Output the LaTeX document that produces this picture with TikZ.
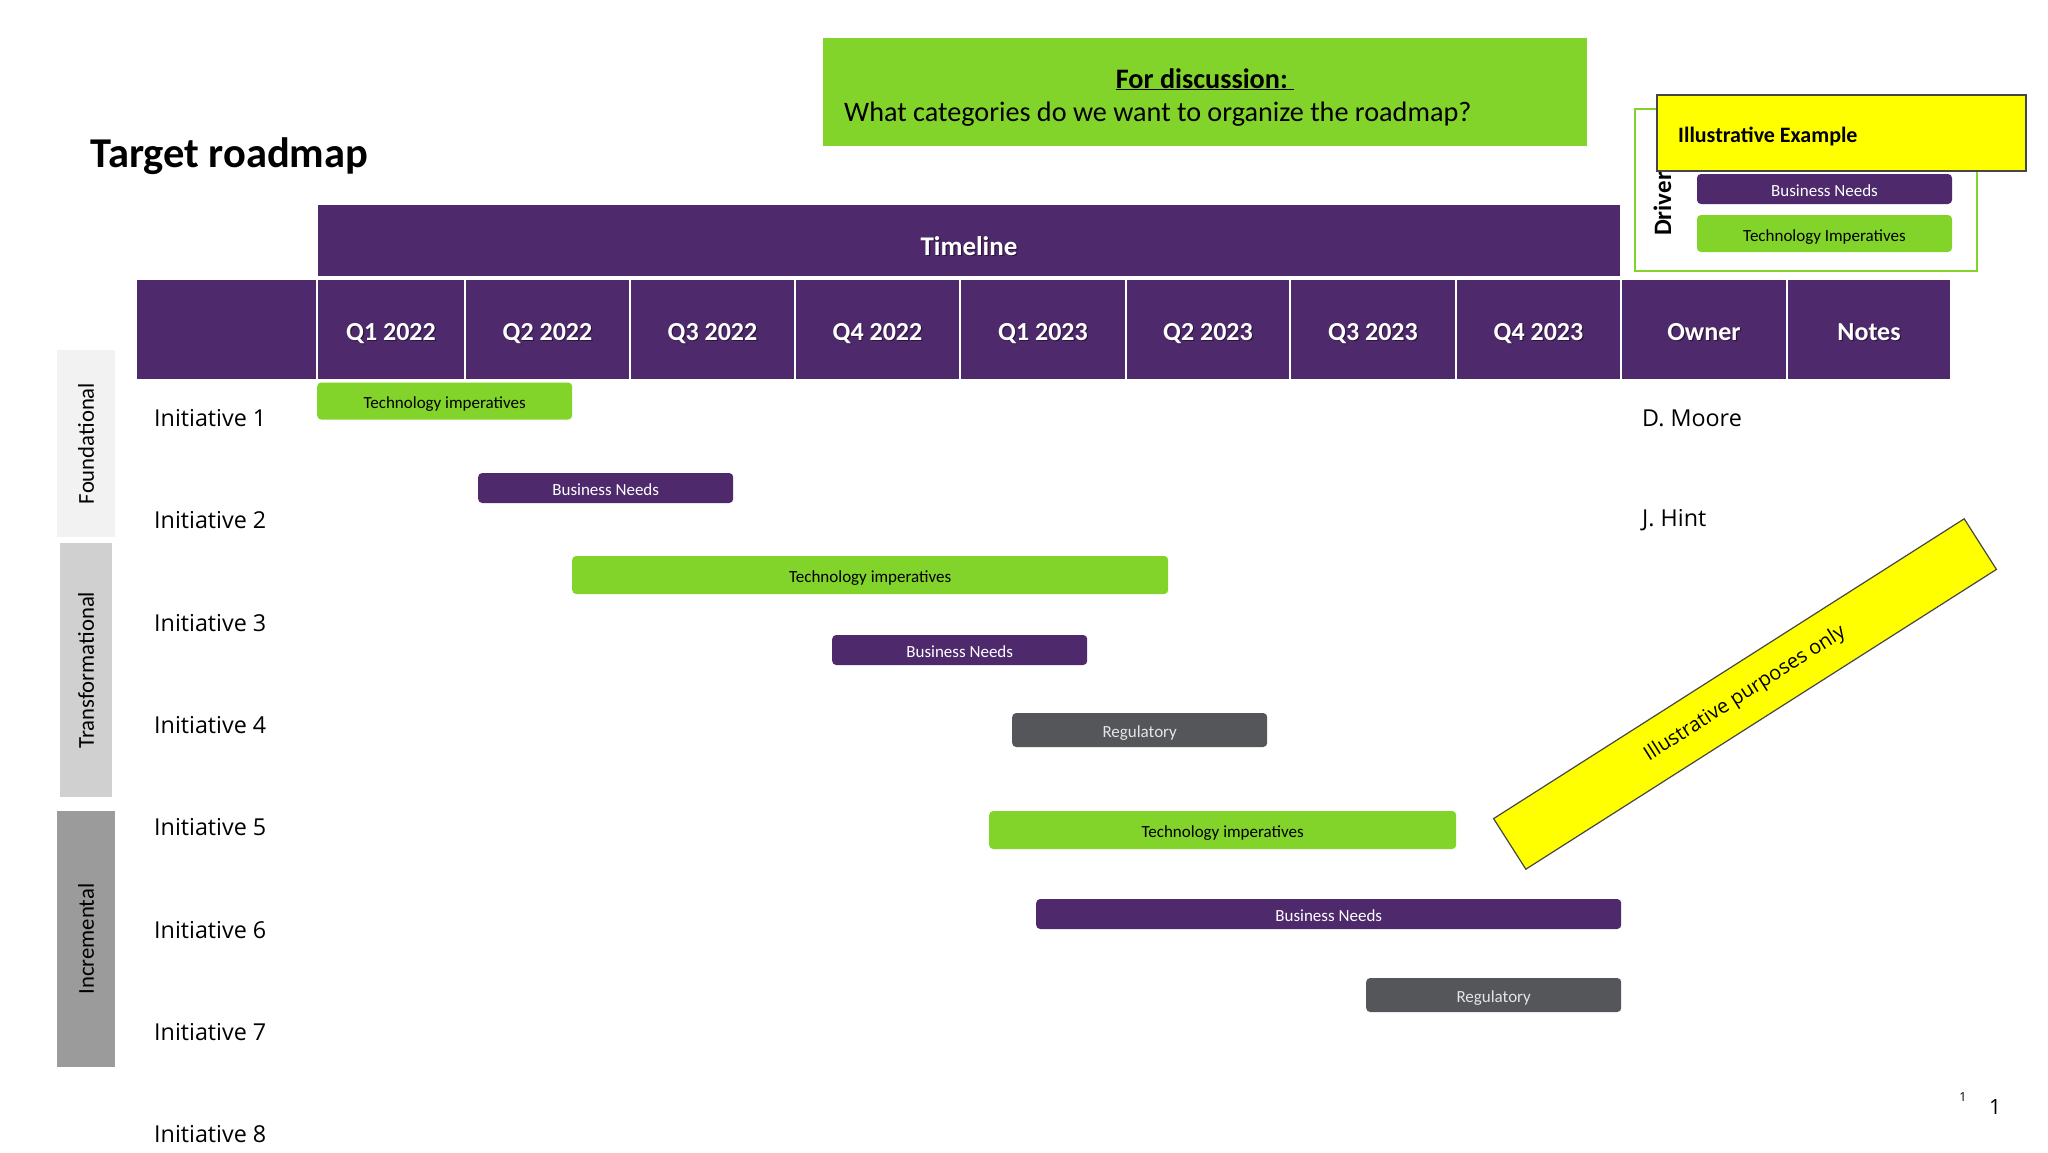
\documentclass[tikz,border=0pt]{standalone}
\usepackage{fontspec}
\setmainfont{Carlito}
\newfontfamily\osans{Open Sans}
\definecolor{tpurple}{RGB}{78,41,108}
\definecolor{tgreen}{RGB}{130,212,42}
\definecolor{tgrey}{RGB}{84,86,90}
\definecolor{catA}{RGB}{242,242,242}
\definecolor{catB}{RGB}{208,208,208}
\definecolor{catC}{RGB}{155,155,155}
\definecolor{tyellow}{RGB}{255,255,0}
\definecolor{bordergrey}{RGB}{70,70,70}
\newcommand\shd[1]{\leavevmode\rlap{\kern1.2pt\raisebox{-1.2pt}{\textcolor{tpurple!55!black}{#1}}}#1}
\begin{document}
\begin{tikzpicture}[x=1pt,y=-1pt,
 hcell/.style={draw=white, line width=1.5pt, fill=tpurple, text=white, font=\fontsize{26}{30}\selectfont\bfseries, inner sep=0pt, minimum height=101pt, text height=21pt, text depth=0pt},
 bar/.style={rounded corners=4pt, inner sep=0pt, font=\fontsize{17}{20}\selectfont, anchor=west, text height=15pt, text depth=0pt},
 gbar/.style={bar, fill=tgreen, text=black},
 pbar/.style={bar, fill=tpurple, text=white},
 rbar/.style={bar, fill=tgrey, text=white!90!black},
 init/.style={font=\osans\fontsize{23.3}{27}\selectfont, anchor=west, inner sep=0pt},
 catbox/.style={rotate=90, font=\fontsize{22.7}{26}\selectfont, inner sep=0pt, text=black}
]
\useasboundingbox[fill=white] (0,0) rectangle (2048,1152);

% title
\node[anchor=base west, inner sep=0pt, font=\fontsize{42.5}{48}\selectfont\bfseries] (title) at (90,167) {Target roadmap};

% discussion box
\node[fill=tgreen, minimum width=764pt, minimum height=108pt, inner sep=0pt] (disc) at (1205,92) {};
\node[anchor=base, inner sep=0pt, font=\fontsize{28.2}{32}\selectfont\bfseries] (disc1) at (1205,88) {\underline{For discussion:~}};
\node[anchor=base west, inner sep=0pt, font=\fontsize{28.2}{32}\selectfont] (disc2) at (844,121) {What categories do we want to organize the roadmap?};

% timeline
\node[hcell, minimum width=1304pt, minimum height=73pt] (timeline) at (969,240.5) {};
\node[inner sep=0pt, text=white, font=\fontsize{27}{30}\selectfont\bfseries] (timelinetext) at (969,247) {\shd{Timeline}};

% header row
\node[hcell, minimum width=181pt] (blank) at (226.5,329.5) {};
\node[hcell, minimum width=148pt] (q1a) at (391,329.5) {\shd{Q1 2022}};
\node[hcell, minimum width=165pt] (q2a) at (547.5,329.5) {\shd{Q2 2022}};
\node[hcell, minimum width=165pt] (q3a) at (712.5,329.5) {\shd{Q3 2022}};
\node[hcell, minimum width=165pt] (q4a) at (877.5,329.5) {\shd{Q4 2022}};
\node[hcell, minimum width=166pt] (q1b) at (1043,329.5) {\shd{Q1 2023}};
\node[hcell, minimum width=164pt] (q2b) at (1208,329.5) {\shd{Q2 2023}};
\node[hcell, minimum width=166pt] (q3b) at (1373,329.5) {\shd{Q3 2023}};
\node[hcell, minimum width=165pt] (q4b) at (1538.5,329.5) {\shd{Q4 2023}};
\node[hcell, minimum width=166pt] (owner) at (1704,329.5) {\shd{Owner}};
\node[hcell, minimum width=164pt] (notes) at (1869,329.5) {\shd{Notes}};

% categories
\node[catbox, fill=catA, minimum width=187pt, minimum height=58pt] (fnd) at (86,443.5) {Foundational};
\node[catbox, fill=catB, minimum width=254pt, minimum height=52pt] (trf) at (86,670) {Transformational};
\node[catbox, fill=catC, minimum width=256pt, minimum height=58pt] (inc) at (86,939) {Incremental};

% initiatives
\node[init] (i1) at (154,418) {Initiative 1};
\node[init] (i2) at (154,520) {Initiative 2};
\node[init] (i3) at (154,623) {Initiative 3};
\node[init] (i4) at (154,725) {Initiative 4};
\node[init] (i5) at (154,827) {Initiative 5};
\node[init] (i6) at (154,930) {Initiative 6};
\node[init] (i7) at (154,1032) {Initiative 7};
\node[init] (i8) at (154,1134) {Initiative 8};

% owners
\node[init] (o1) at (1642,418) {D. Moore};
\node[init] (o2) at (1642,520) {J. Hint};

% bars
\node[gbar, minimum width=255pt, minimum height=37pt] (b1) at (317,401) {Technology imperatives};
\node[pbar, minimum width=255pt, minimum height=30pt] (b2) at (478,488) {Business Needs};
\node[gbar, minimum width=596pt, minimum height=38pt] (b3) at (572,575) {Technology imperatives};
\node[pbar, minimum width=255pt, minimum height=30pt] (b4) at (832,650) {Business Needs};
\node[rbar, minimum width=255pt, minimum height=34pt] (b5) at (1012,730) {Regulatory};
\node[gbar, minimum width=467pt, minimum height=38pt] (b6) at (989,830) {Technology imperatives};
\node[pbar, minimum width=585pt, minimum height=30pt] (b7) at (1036,914) {Business Needs};
\node[rbar, minimum width=255pt, minimum height=34pt] (b8) at (1366,995) {Regulatory};

% legend
\node[draw=tgreen, line width=2.5pt, minimum width=342pt, minimum height=162pt, inner sep=0pt] (legend) at (1806,190) {};
\node[rotate=90, anchor=base west, inner sep=0pt, font=\fontsize{25}{28}\selectfont\bfseries] (drivers) at (1671,236) {Drivers};
\node[pbar, anchor=center, minimum width=255pt, minimum height=30pt] (lb1) at (1824.5,189) {Business Needs};
\node[gbar, anchor=center, minimum width=255pt, minimum height=37pt] (lb2) at (1824.5,233.5) {Technology Imperatives};
\node[fill=tyellow, draw=bordergrey, line width=1.5pt, minimum width=369pt, minimum height=76pt, inner sep=0pt] (illus) at (1841.5,133) {};
\node[anchor=west, inner sep=0pt, font=\fontsize{22}{26}\selectfont\bfseries] (illust) at (1678,136) {Illustrative Example};

% banner
\node[fill=tyellow, draw=bordergrey, line width=1.2pt, rotate=32.5, minimum width=558pt, minimum height=60pt, inner sep=0pt, font=\osans\fontsize{20}{24}\selectfont] (banner) at (1745,694) {Illustrative purposes only};

% page numbers
\node[inner sep=0pt, font=\osans\fontsize{12.5}{14}\selectfont] (pn1) at (1963,1097) {1};
\node[inner sep=0pt, font=\osans\fontsize{21}{24}\selectfont] (pn2) at (1995,1107) {1};
\end{tikzpicture}
\end{document}
